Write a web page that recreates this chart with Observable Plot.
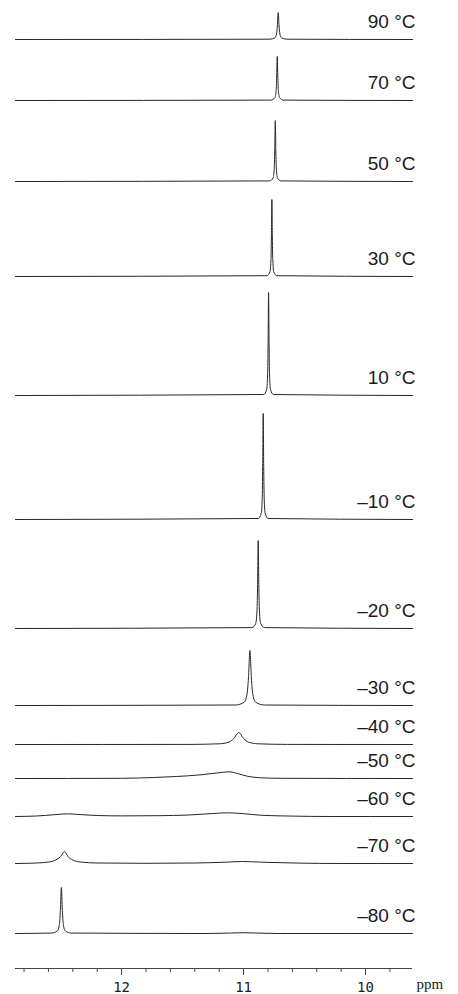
<!DOCTYPE html>
<html>
<head>
<meta charset="utf-8">
<script src="https://cdn.jsdelivr.net/npm/d3@7"></script>
<script src="https://cdn.jsdelivr.net/npm/@observablehq/plot@0.6"></script>
<style>
  html, body { margin: 0; padding: 0; background: #fff; }
  #chart svg { display: block; }
</style>
</head>
<body>
<div id="chart"></div>
<script>
// Temperature labels (top to bottom) and vertical stacking offset of each trace
const temps   = ["90 °C", "70 °C", "50 °C", "30 °C", "10 °C", "–10 °C", "–20 °C",
                 "–30 °C", "–40 °C", "–50 °C", "–60 °C", "–70 °C", "–80 °C"];
const offsets = [929, 868, 787, 692, 573, 449, 340, 263, 224, 190, 152, 105, 35];

// Spectra: [chemical shift (ppm), intensity] pairs
const s90  = [[12.87,0],[10.786,0.3],[10.744,1.6],[10.730,5.4],[10.723,13.5],[10.716,27],[10.709,13.5],[10.702,5.4],[10.688,1.6],[10.646,0.3],[9.615,0]];
const s70  = [[12.87,0],[10.774,0.4],[10.744,2.6],[10.734,8.8],[10.729,22],[10.724,44],[10.719,22],[10.714,8.8],[10.704,2.6],[10.674,0.4],[9.615,0]];
const s50  = [[12.87,0],[10.785,0.6],[10.758,3.6],[10.749,12.2],[10.7445,30.5],[10.740,61],[10.7355,30.5],[10.731,12.2],[10.722,3.6],[10.695,0.6],[9.615,0]];
const s30  = [[12.87,0],[10.808,0.8],[10.784,4.5],[10.776,15.4],[10.772,38.5],[10.768,77],[10.764,38.5],[10.760,15.4],[10.752,4.5],[10.728,0.8],[9.615,0]];
const s10  = [[12.87,0],[10.835,1],[10.811,6],[10.803,20.6],[10.799,51.5],[10.795,103],[10.791,51.5],[10.787,20.6],[10.779,6],[10.755,1],[9.615,0]];
const sm10 = [[12.87,0],[10.879,1],[10.855,6.2],[10.847,21.2],[10.843,53],[10.839,106],[10.835,53],[10.831,21.2],[10.823,6.2],[10.799,1],[9.615,0]];
const sm20 = [[12.87,0],[10.930,0.9],[10.900,5.2],[10.890,17.6],[10.885,44],[10.880,88],[10.875,44],[10.870,17.6],[10.860,5.2],[10.830,0.9],[9.615,0]];
const sm30 = [[12.87,0],[11.068,0.5],[10.996,3.2],[10.972,11],[10.960,27.5],[10.948,55],[10.936,27.5],[10.924,11],[10.900,3.2],[10.828,0.5],[9.615,0]];
const sm40 = [[12.87,0],[11.44,0.1],[11.20,0.7],[11.12,2.4],[11.08,6],[11.039,12],[11.00,6],[10.96,2.4],[10.88,0.7],[10.64,0.1],[9.615,0]];
const sm50 = [[12.87,0],[12.0,0.2],[11.74,1],[11.55,2],[11.35,3.7],[11.22,5.5],[11.12,6.7],[11.05,5],[10.97,2.3],[10.86,0.7],[10.70,0.2],[9.615,0]];
const sm60 = [[12.87,0],[12.70,0.5],[12.55,1.8],[12.445,2.7],[12.35,2],[12.20,1],[12.00,0.6],[11.70,0.8],[11.45,1.5],[11.25,3],[11.13,3.7],[11.00,2.8],[10.85,1.2],[10.60,0.4],[10.30,0],[9.615,0]];
const sm70 = [[12.87,0],[12.70,0.5],[12.60,1.5],[12.54,3.5],[12.50,7],[12.467,12],[12.44,7],[12.40,3.5],[12.34,1.5],[12.20,0.5],[11.80,0.2],[11.40,0.5],[11.15,1.3],[11.01,2],[10.85,1.3],[10.55,0.4],[10.20,0],[9.615,0]];
const sm80 = [[12.87,0],[12.574,0.45],[12.526,2.7],[12.510,9.2],[12.502,23],[12.494,46],[12.486,23],[12.478,9.2],[12.462,2.7],[12.414,0.45],[11.30,0],[11.10,0.5],[11.00,0.8],[10.90,0.5],[10.70,0],[9.615,0]];
const spectra = [s90, s70, s50, s30, s10, sm10, sm20, sm30, sm40, sm50, sm60, sm70, sm80];

// Axis
const xDomain    = [12.87, 9.615];
const majorTicks = [12, 11, 10];
const minorTicks = [12.8, 12.6, 12.4, 12.2, 11.8, 11.6, 11.4, 11.2, 10.8, 10.6, 10.4, 10.2, 9.8];
const axisUnit   = "ppm";

const rows = spectra.flatMap((s, i) =>
  s.map(([ppm, v]) => ({t: temps[i], x: ppm, y: offsets[i] + v})));
const labels = temps.map((t, i) => ({t, y: offsets[i]}));

const ink = "#262626";

const chart = Plot.plot({
  width: 458,
  height: 994,
  marginTop: 0,
  marginBottom: 26,
  marginLeft: 15,
  marginRight: 46,
  x: {domain: xDomain, label: null},
  y: {domain: [0, 968], axis: null},
  style: {background: "#fff", color: ink},
  marks: [
    Plot.line(rows, {x: "x", y: "y", z: "t", stroke: ink, strokeWidth: 1, curve: "monotone-x"}),
    Plot.text(labels, {x: () => xDomain[1], y: "y", text: "t", textAnchor: "end", dx: 3, dy: -17.8,
      lineAnchor: "middle", fontSize: 19, fontFamily: "Liberation Sans, Arial, Helvetica, sans-serif", fill: "#1a1a1a"}),
    Plot.ruleY([0], {stroke: "#444", strokeWidth: 1}),
    Plot.axisX({ticks: minorTicks, tickSize: 4, tickFormat: () => "", stroke: "#444", label: null}),
    Plot.axisX({ticks: majorTicks, tickSize: 7, tickPadding: 7, tickFormat: d => String(d),
      fontSize: 14, fontFamily: "DejaVu Sans Mono, monospace", fill: "#1a1a1a", stroke: "#444", label: null}),
    Plot.text([axisUnit], {frameAnchor: "bottom-right", text: d => d, textAnchor: "start", dx: 4, dy: 15.2,
      lineAnchor: "middle", fontSize: 15, fontFamily: "Liberation Serif, Times New Roman, serif", fill: "#1a1a1a"})
  ]
});
document.getElementById("chart").appendChild(chart);
</script>
</body>
</html>
